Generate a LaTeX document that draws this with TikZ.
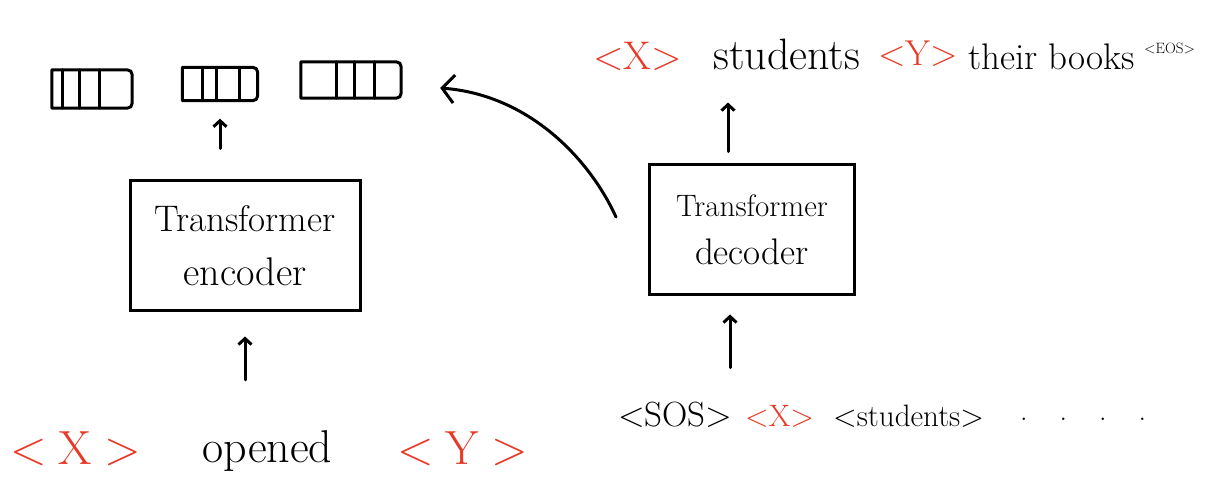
\documentclass[tikz,border=0pt]{standalone}
\usetikzlibrary{arrows.meta}
\definecolor{handred}{RGB}{232,57,38}
\newcommand\fsz[2]{\fontsize{#1}{#2}\selectfont}
\tikzset{
  blk/.style={draw, line width=3pt, inner sep=0pt, align=center},
  vec/.style={line width=3pt, line cap=round, line join=round},
  vecbox/.style={inner sep=0pt},
  arr/.style={line width=3pt, line cap=round, -{Straight Barb[length=6pt,width=13pt]}},
  bigarr/.style={line width=3pt, line cap=round, -{Straight Barb[length=12pt,width=28pt]}},
  lbl/.style={inner sep=0pt, anchor=base west},
  tok/.style={lbl, text=handred}
}
\begin{document}
\begin{tikzpicture}[x=1pt, y=-1pt]
\path[use as bounding box] (0,0) rectangle (1211,489);

% encoder / decoder
\node[blk, minimum width=230pt, minimum height=130pt, font=\fsz{37}{54}] (enc) at (245,246) {Transformer\\{\fsz{40}{54}encoder}};
\node[blk, minimum width=205pt, minimum height=130pt, font=\fsz{31}{48}] (dec) at (752,230) {Transformer\\{\fsz{37}{48}decoder}};

% encoder output vectors
\node[vecbox, minimum width=80pt, minimum height=38pt] (v1) at (92,89) {};
\node[vecbox, minimum width=75pt, minimum height=33pt] (v2) at (220,84) {};
\node[vecbox, minimum width=100pt, minimum height=36pt] (v3) at (351,80) {};
\foreach \v/\a/\b/\c in {v1/11/28/48, v2/20/34/57, v3/36/54/74}{
  \draw[vec] (\v.north west) -- ([xshift=-11pt]\v.north east)
     .. controls (\v.north east) .. ([yshift=-11pt]\v.north east)
     -- ([yshift=11pt]\v.south east)
     .. controls (\v.south east) .. ([xshift=-11pt]\v.south east)
     -- (\v.south west) -- cycle;
  \draw[vec] ([xshift=\a pt]\v.north west) -- ([xshift=\a pt]\v.south west);
  \draw[vec] ([xshift=\b pt]\v.north west) -- ([xshift=\b pt]\v.south west);
  \draw[vec] ([xshift=\c pt]\v.north west) -- ([xshift=\c pt]\v.south west);
}

% decoder output text
\node[tok, font=\fsz{40}{40}] (xo) at (593,70) {\textless X\textgreater};
\node[lbl, font=\fsz{44}{44}] (students) at (713,70) {students};
\node[tok, font=\fsz{36}{36}] (yo) at (878,66) {\textless Y\textgreater};
\node[lbl, font=\fsz{37}{37}] (books) at (968,70) {their books};
\node[lbl, font=\fsz{15}{15}] (eos) at (1144,54) {\textless EOS\textgreater};

% encoder input text
\node[tok, font=\fsz{48}{48}] (xi) at (10,464) {\textless\hspace{.25em}X\hspace{.25em}\textgreater};
\node[lbl, font=\fsz{46}{46}] (opened) at (202,462) {opened};
\node[tok, font=\fsz{48}{48}] (yi) at (397,464) {\textless\hspace{.25em}Y\hspace{.25em}\textgreater};

% decoder input text
\node[lbl, font=\fsz{35}{35}] (sos) at (618,426) {\textless SOS\textgreater};
\node[tok, font=\fsz{31}{31}] (xd) at (745,426) {\textless X\textgreater};
\node[lbl, font=\fsz{31}{31}] (sd) at (833,426) {\textless students\textgreater};
\node[lbl, font=\fsz{30}{30}] (dots) at (1020,420) {.\hspace{32pt}.\hspace{32pt}.\hspace{32pt}.};

% arrows
\draw[arr, shorten <=31pt, shorten >=18pt] (v2.south |- enc.north) -- (v2.south);
\draw[arr, shorten <=50pt, shorten >=24pt] (enc.south |- opened.north) -- (enc.south);
\draw[arr, shorten <=37pt, shorten >=18pt] ([xshift=-22pt]dec.south |- xd.north) -- ([xshift=-22pt]dec.south);
\draw[arr, shorten <=12pt, shorten >=32pt] ([xshift=-24pt]dec.north) -- ([xshift=-24pt]dec.north |- students.south);
\draw[bigarr] ([xshift=-32pt,yshift=13pt]dec.west) .. controls (590,160) and (530,95) .. ([xshift=39pt,yshift=-8pt]v3.east);
\end{tikzpicture}
\end{document}
